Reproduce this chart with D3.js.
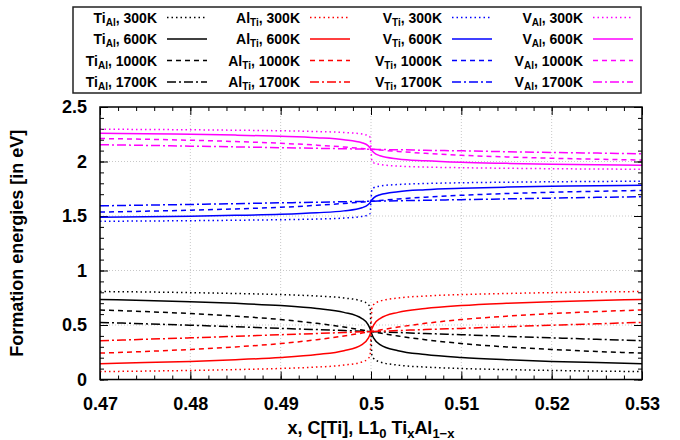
<!DOCTYPE html>
<html>
<head>
<meta charset="utf-8">
<script src="https://cdn.jsdelivr.net/npm/d3@7"></script>
<style>
body { margin: 0; background: #fff; }
svg text { font-family: "Liberation Sans", Arial, sans-serif; font-weight: bold; fill: #000; }
</style>
</head>
<body>
<svg width="680" height="440"></svg>
<script>
// composition points, denser close to x = 0.5 where the curves turn
var xs = [0.47, 0.475, 0.48, 0.485, 0.49, 0.494, 0.497, 0.499, 0.4997, 0.4999, 0.5,
          0.5001, 0.5003, 0.501, 0.503, 0.506, 0.51, 0.515, 0.52, 0.525, 0.53];

// Ti on Al sites
var tiAl300  = [0.807, 0.803, 0.797, 0.789, 0.779, 0.766, 0.748, 0.719, 0.688, 0.660, 0.44,
                0.220, 0.192, 0.161, 0.132, 0.114, 0.101, 0.091, 0.083, 0.077, 0.073];
var tiAl600  = [0.735, 0.725, 0.714, 0.699, 0.678, 0.651, 0.616, 0.559, 0.501, 0.465, 0.44,
                0.415, 0.379, 0.321, 0.264, 0.229, 0.202, 0.181, 0.166, 0.155, 0.145];
var tiAl1000 = [0.638, 0.623, 0.605, 0.581, 0.550, 0.515, 0.481, 0.454, 0.444, 0.441, 0.44,
                0.439, 0.436, 0.426, 0.399, 0.365, 0.330, 0.299, 0.276, 0.257, 0.242];
var tiAl1700 = [0.524, 0.511, 0.498, 0.484, 0.469, 0.458, 0.449, 0.443, 0.441, 0.440, 0.44,
                0.440, 0.439, 0.437, 0.431, 0.422, 0.411, 0.396, 0.382, 0.369, 0.356];

// Al on Ti sites
var alTi300  = [0.073, 0.077, 0.083, 0.091, 0.101, 0.114, 0.132, 0.161, 0.192, 0.220, 0.44,
                0.660, 0.688, 0.719, 0.748, 0.766, 0.779, 0.789, 0.797, 0.803, 0.807];
var alTi600  = [0.145, 0.155, 0.166, 0.181, 0.202, 0.229, 0.264, 0.321, 0.379, 0.415, 0.44,
                0.465, 0.501, 0.559, 0.616, 0.651, 0.678, 0.699, 0.714, 0.725, 0.735];
var alTi1000 = [0.242, 0.257, 0.276, 0.299, 0.330, 0.365, 0.399, 0.426, 0.436, 0.439, 0.44,
                0.441, 0.444, 0.454, 0.481, 0.515, 0.550, 0.581, 0.605, 0.623, 0.638];
var alTi1700 = [0.356, 0.369, 0.382, 0.396, 0.411, 0.422, 0.431, 0.437, 0.439, 0.440, 0.44,
                0.440, 0.441, 0.443, 0.449, 0.458, 0.469, 0.484, 0.498, 0.511, 0.524];

// Ti vacancies
var vTi300  = [1.452, 1.454, 1.457, 1.461, 1.466, 1.472, 1.481, 1.496, 1.511, 1.525, 1.635,
               1.745, 1.759, 1.775, 1.789, 1.798, 1.805, 1.810, 1.814, 1.817, 1.819];
var vTi600  = [1.488, 1.493, 1.498, 1.506, 1.516, 1.530, 1.547, 1.576, 1.605, 1.623, 1.635,
               1.648, 1.666, 1.695, 1.723, 1.741, 1.754, 1.765, 1.772, 1.778, 1.783];
var vTi1000 = [1.536, 1.544, 1.553, 1.565, 1.580, 1.598, 1.615, 1.628, 1.633, 1.635, 1.635,
               1.635, 1.637, 1.642, 1.656, 1.673, 1.690, 1.706, 1.718, 1.727, 1.734];
var vTi1700 = [1.593, 1.600, 1.606, 1.613, 1.621, 1.626, 1.631, 1.634, 1.635, 1.635, 1.635,
               1.635, 1.636, 1.637, 1.640, 1.644, 1.650, 1.657, 1.664, 1.671, 1.677];

// Al vacancies
var vAl300  = [2.296, 2.294, 2.291, 2.287, 2.282, 2.275, 2.266, 2.252, 2.236, 2.222, 2.112,
               2.002, 1.988, 1.973, 1.958, 1.949, 1.943, 1.938, 1.934, 1.931, 1.929];
var vAl600  = [2.260, 2.255, 2.249, 2.242, 2.231, 2.218, 2.200, 2.172, 2.143, 2.125, 2.112,
               2.100, 2.082, 2.053, 2.024, 2.007, 1.993, 1.983, 1.975, 1.970, 1.965];
var vAl1000 = [2.211, 2.204, 2.195, 2.183, 2.167, 2.150, 2.133, 2.119, 2.114, 2.113, 2.112,
               2.112, 2.110, 2.105, 2.092, 2.075, 2.057, 2.042, 2.030, 2.021, 2.013];
var vAl1700 = [2.154, 2.148, 2.141, 2.134, 2.127, 2.121, 2.117, 2.114, 2.113, 2.112, 2.112,
               2.112, 2.112, 2.110, 2.108, 2.103, 2.098, 2.090, 2.083, 2.077, 2.070];

var temps = ["300K", "600K", "1000K", "1700K"];
var xTicks = [0.47, 0.48, 0.49, 0.5, 0.51, 0.52, 0.53];
var yTicks = [0, 0.5, 1, 1.5, 2, 2.5];

var defects = [
  { main: "Ti", sub: "Al", color: "#000000", values: [tiAl300, tiAl600, tiAl1000, tiAl1700] },
  { main: "Al", sub: "Ti", color: "#ff0000", values: [alTi300, alTi600, alTi1000, alTi1700] },
  { main: "V",  sub: "Ti", color: "#0000ff", values: [vTi300, vTi600, vTi1000, vTi1700] },
  { main: "V",  sub: "Al", color: "#ff00ff", values: [vAl300, vAl600, vAl1000, vAl1700] }
];
var dashes = ["1.5,3", null, "5,4", "9,3,2,3"];

var margin = { top: 107, right: 38, bottom: 60.5, left: 100 },
    width = 680 - margin.left - margin.right,
    height = 440 - margin.top - margin.bottom;

var svg = d3.select("svg");

var xScale = d3.scaleLinear().domain([0.47, 0.53]).range([0, width]);
var yScale = d3.scaleLinear().domain([0, 2.5]).range([height, 0]);

var g = svg.append("g")
    .attr("transform", "translate(" + margin.left + "," + margin.top + ")");

// grid
g.append("g").selectAll("line")
  .data(xTicks.slice(1, -1)).enter().append("line")
    .attr("x1", d => xScale(d)).attr("x2", d => xScale(d))
    .attr("y1", 0).attr("y2", height)
    .attr("stroke", "#c8c8c8").attr("stroke-width", 1).attr("stroke-dasharray", "1,2");
g.append("g").selectAll("line")
  .data(yTicks.slice(1, -1)).enter().append("line")
    .attr("y1", d => yScale(d)).attr("y2", d => yScale(d))
    .attr("x1", 0).attr("x2", width)
    .attr("stroke", "#c8c8c8").attr("stroke-width", 1).attr("stroke-dasharray", "1,2");

// minor ticks (all four sides)
var xMinor = d3.range(0, 31).map(i => 0.47 + i * 0.002);
var yMinor = d3.range(0, 26).map(i => i * 0.1);
function styleTicks(sel) {
  sel.select(".domain").remove();
  sel.selectAll("line").attr("stroke", "#000").attr("stroke-width", 1);
}
g.append("g").attr("transform", "translate(0," + height + ")")
  .call(d3.axisBottom(xScale).tickValues(xMinor).tickSize(-4).tickFormat("")).call(styleTicks);
g.append("g")
  .call(d3.axisTop(xScale).tickValues(xMinor).tickSize(-4).tickFormat("")).call(styleTicks);
g.append("g")
  .call(d3.axisLeft(yScale).tickValues(yMinor).tickSize(-4).tickFormat("")).call(styleTicks);
g.append("g").attr("transform", "translate(" + width + ",0)")
  .call(d3.axisRight(yScale).tickValues(yMinor).tickSize(-4).tickFormat("")).call(styleTicks);

// major ticks + labels
var xAxis = g.append("g").attr("transform", "translate(0," + height + ")")
  .call(d3.axisBottom(xScale).tickValues(xTicks).tickSize(-8).tickPadding(18).tickFormat(d3.format("")));
xAxis.call(styleTicks);
xAxis.selectAll("text").attr("font-size", 18).attr("font-family", null);

var yAxis = g.append("g")
  .call(d3.axisLeft(yScale).tickValues(yTicks).tickSize(-8).tickPadding(13).tickFormat(d3.format("")));
yAxis.call(styleTicks);
yAxis.selectAll("text").attr("font-size", 18).attr("font-family", null);

g.append("g")
  .call(d3.axisTop(xScale).tickValues(xTicks).tickSize(-8).tickFormat("")).call(styleTicks);
g.append("g").attr("transform", "translate(" + width + ",0)")
  .call(d3.axisRight(yScale).tickValues(yTicks).tickSize(-8).tickFormat("")).call(styleTicks);

// curves
var line = d3.line()
    .x((d, i) => xScale(xs[i]))
    .y(d => yScale(d))
    .curve(d3.curveMonotoneX);

defects.forEach(function(def) {
  def.values.forEach(function(vals, t) {
    g.append("path")
      .attr("d", line(vals))
      .attr("fill", "none")
      .attr("stroke", def.color)
      .attr("stroke-width", 1.5)
      .attr("stroke-dasharray", dashes[t]);
  });
});

// frame
g.append("rect")
    .attr("width", width).attr("height", height)
    .attr("fill", "none").attr("stroke", "#000").attr("stroke-width", 1.5);

// axis titles
svg.append("text")
    .attr("transform", "translate(23," + (margin.top + height / 2) + ") rotate(-90)")
    .attr("text-anchor", "middle")
    .attr("font-size", 18)
    .text("Formation energies [in eV]");

var xt = svg.append("text")
    .attr("x", margin.left + width / 2).attr("y", 434)
    .attr("text-anchor", "middle")
    .attr("font-size", 18);
xt.append("tspan").text("x, C[Ti], L1");
xt.append("tspan").attr("font-size", 13).attr("dy", 4).text("0");
xt.append("tspan").attr("dy", -4).text(" Ti");
xt.append("tspan").attr("font-size", 13).attr("dy", 4).text("x");
xt.append("tspan").attr("dy", -4).text("Al");
xt.append("tspan").attr("font-size", 13).attr("dy", 4).text("1\u2212x");

// legend
var legend = svg.append("g");
legend.append("rect")
    .attr("x", 73).attr("y", 7).attr("width", 568).attr("height", 86)
    .attr("fill", "#fff").attr("stroke", "#222").attr("stroke-width", 1.5);

var colRight = [157, 300, 442, 583];
var rowY = [17.5, 39, 60.5, 82];

defects.forEach(function(def, c) {
  temps.forEach(function(tp, r) {
    var txt = legend.append("text")
        .attr("x", colRight[c]).attr("y", rowY[r] + 5)
        .attr("text-anchor", "end")
        .attr("font-size", 14);
    txt.append("tspan").text(def.main);
    txt.append("tspan").attr("font-size", 10).attr("dy", 3).text(def.sub);
    txt.append("tspan").attr("dy", -3).text(", " + tp);
    legend.append("line")
        .attr("x1", colRight[c] + 10).attr("x2", colRight[c] + 50)
        .attr("y1", rowY[r]).attr("y2", rowY[r])
        .attr("stroke", def.color).attr("stroke-width", 1.5)
        .attr("stroke-dasharray", dashes[r]);
  });
});
</script>
</body>
</html>
